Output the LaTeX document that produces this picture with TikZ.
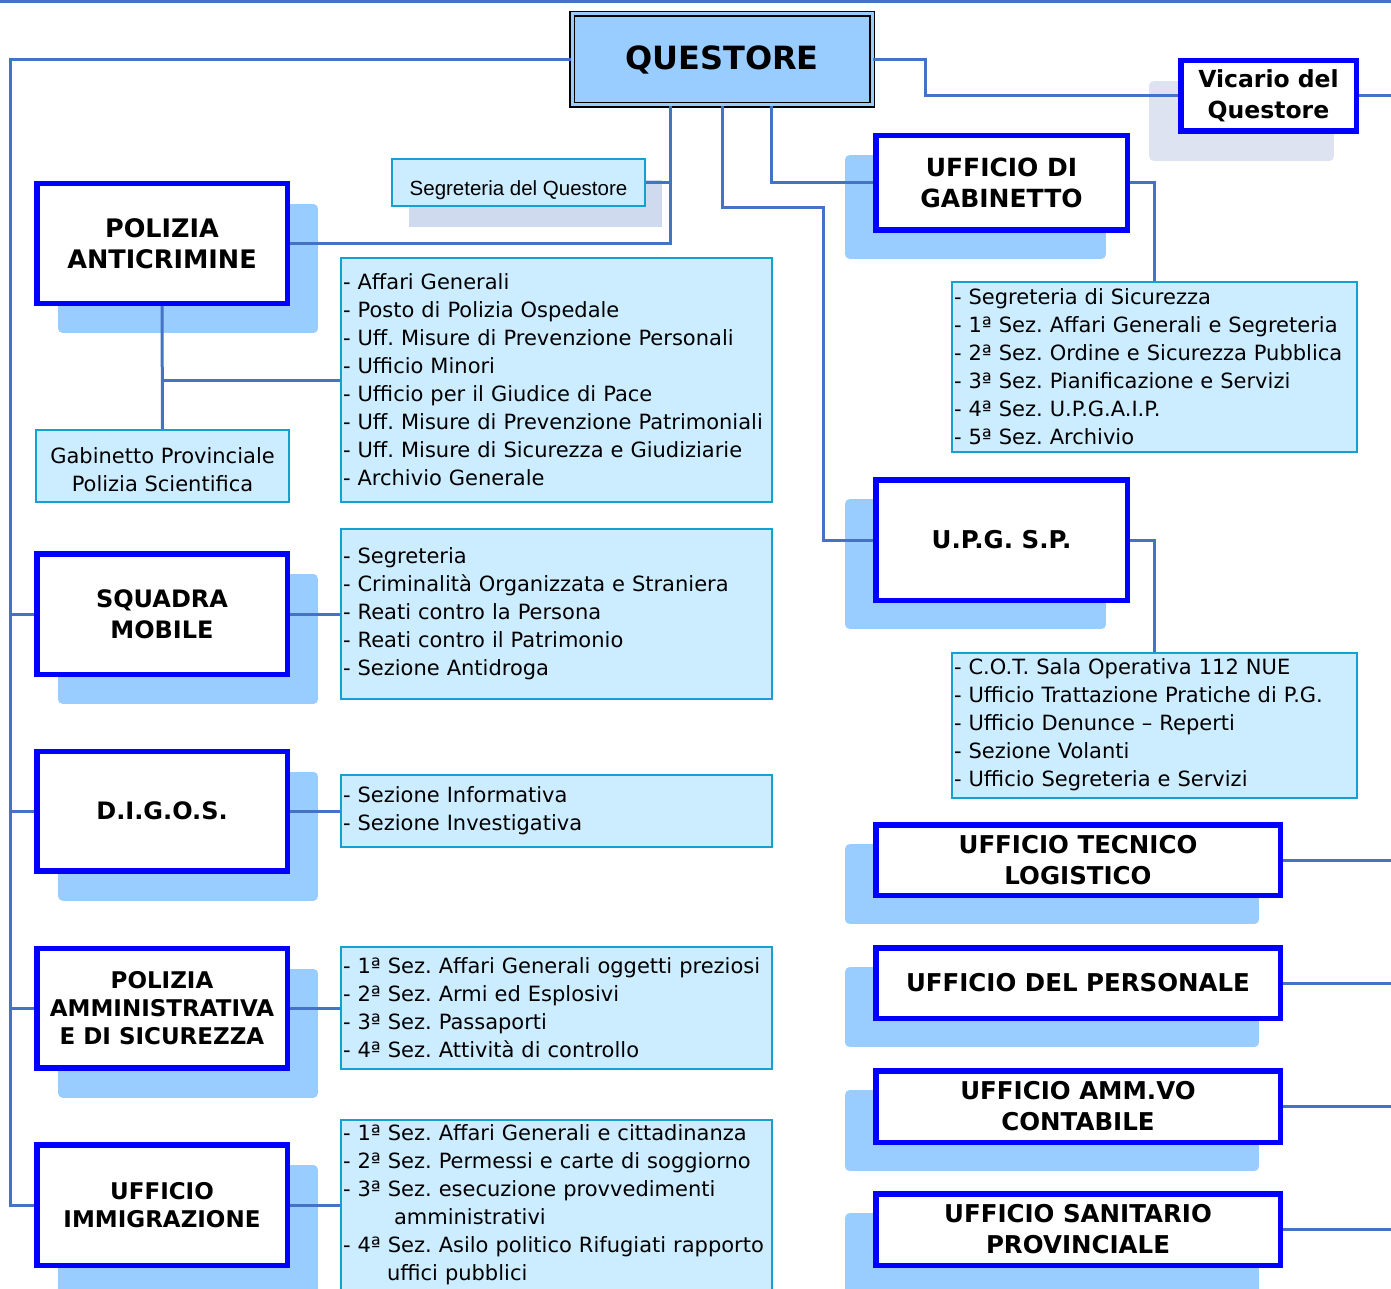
\documentclass[tikz,border=0pt]{standalone}
\usepackage{fontspec}
\setmainfont{DejaVu Sans}
\newfontfamily\arialfont{Liberation Sans}
\usetikzlibrary{calc}
\usetikzlibrary{shadows}
\frenchspacing

\definecolor{linkblue}{HTML}{4472C4}
\definecolor{boxblue}{HTML}{0000FF}
\definecolor{shadowblue}{HTML}{99CCFF}
\definecolor{qfill}{HTML}{99CCFF}
\definecolor{listfill}{HTML}{CCECFF}
\definecolor{listedge}{HTML}{14A0D2}
\definecolor{segshadow}{HTML}{D0DAEE}
\definecolor{vicshadow}{HTML}{DEE3F2}

\begin{document}
\begin{tikzpicture}[x=1pt, y=-1pt,
    link/.style={linkblue, line width=3pt},
    unitbox/.style={draw=boxblue, line width=5.5pt, fill=white, align=center, inner sep=2pt,
        font=\bfseries\fontsize{24.5}{31}\selectfont},
    lshadow/.style={drop shadow={shadow xshift=26pt, shadow yshift=-25pt, fill=shadowblue,
        draw=shadowblue, line width=9.5pt, line join=round, opacity=1}},
    rshadow/.style={drop shadow={shadow xshift=-26pt, shadow yshift=-24pt, fill=shadowblue,
        draw=shadowblue, line width=9.5pt, line join=round, opacity=1}},
    sublist/.style={draw=listedge, line width=2pt, fill=listfill, align=left, inner xsep=2pt, inner ysep=0pt,
        font=\fontsize{21}{28}\selectfont}]
    \useasboundingbox (0,0) rectangle (1391,1289);

    % vertice
    \node [draw=black, double=qfill, double distance=3pt, line width=1.5pt, fill=qfill,
        minimum width=300pt, minimum height=91pt, font=\bfseries\fontsize{32}{38}\selectfont] (q) at (722,59.5) {QUESTORE};
    \node [unitbox, drop shadow={shadow xshift=-27pt, shadow yshift=-25pt, fill=vicshadow, draw=vicshadow,
        line width=9.5pt, line join=round, opacity=1},
        minimum width=175.5pt, minimum height=70.5pt, font=\bfseries\fontsize{23.5}{31}\selectfont] (vic) at (1268.5,96) {Vicario del\\Questore};
    \node [sublist, align=center, font=\arialfont\fontsize{20.5}{24}\selectfont, text height=26pt, text depth=0pt,
        minimum width=253pt, minimum height=47pt,
        drop shadow={shadow xshift=17pt, shadow yshift=-21pt, fill=segshadow, opacity=1}] (seg) at (518.5,182.5) {Segreteria del Questore};

    % colonna sinistra
    \node [unitbox, lshadow, minimum width=250.5pt, minimum height=119.5pt, font=\bfseries\fontsize{25.5}{31}\selectfont] (pa) at (162,243.5) {POLIZIA\\ANTICRIMINE};
    \node [unitbox, lshadow, minimum width=250.5pt, minimum height=120.5pt, font=\bfseries\fontsize{24}{31}\selectfont] (sm) at (162,614) {SQUADRA\\MOBILE};
    \node [unitbox, lshadow, minimum width=250.5pt, minimum height=119.5pt, font=\bfseries\fontsize{24}{31}\selectfont] (dig) at (162,811) {D.I.G.O.S.};
    \node [unitbox, lshadow, minimum width=250.5pt, minimum height=119.5pt, font=\bfseries\fontsize{23}{28}\selectfont] (pam) at (162,1008) {POLIZIA\\AMMINISTRATIVA\\E DI SICUREZZA};
    \node [unitbox, lshadow, minimum width=250.5pt, minimum height=120.5pt, font=\bfseries\fontsize{23}{28}\selectfont] (imm) at (162,1205) {UFFICIO\\IMMIGRAZIONE};
    \node [sublist, align=center, text height=50pt, text depth=0pt, minimum width=253pt, minimum height=72pt] (gps) at (162.5,466) {Gabinetto Provinciale\\Polizia Scientifica};

    \node [sublist, text width=427pt, minimum height=244pt] (palist) at (556.5,380) {- Affari Generali\\- Posto di Polizia Ospedale\\- Uff. Misure di Prevenzione Personali\\- Ufficio Minori\\- Ufficio per il Giudice di Pace\\- Uff. Misure di Prevenzione Patrimoniali\\- Uff. Misure di Sicurezza e Giudiziarie\\- Archivio Generale};
    \node [sublist, text width=427pt, minimum height=170pt] (smlist) at (556.5,614) {- Segreteria\\- Criminalità Organizzata e Straniera\\- Reati contro la Persona\\- Reati contro il Patrimonio\\- Sezione Antidroga};
    \node [sublist, text width=427pt, minimum height=72pt] (diglist) at (556.5,811) {- Sezione Informativa\\- Sezione Investigativa};
    \node [sublist, text width=427pt, minimum height=122pt] (pamlist) at (556.5,1008) {- 1ª Sez. Affari Generali oggetti preziosi\\- 2ª Sez. Armi ed Esplosivi\\- 3ª Sez. Passaporti\\- 4ª Sez. Attività di controllo};
    \node [sublist, text width=427pt, minimum height=170pt] (immlist) at (556.5,1205) {- 1ª Sez. Affari Generali e cittadinanza\\- 2ª Sez. Permessi e carte di soggiorno\\- 3ª Sez. esecuzione provvedimenti\\\hspace*{51pt}amministrativi\\- 4ª Sez. Asilo politico Rifugiati rapporto\\\hspace*{44pt}uffici pubblici};

    % colonna destra
    \node [unitbox, rshadow, minimum width=251.5pt, minimum height=94.5pt, font=\bfseries\fontsize{25}{31}\selectfont] (gab) at (1001.5,183) {UFFICIO DI\\GABINETTO};
    \node [unitbox, rshadow, minimum width=251.5pt, minimum height=120.5pt] (upg) at (1001.5,540) {U.P.G. S.P.};
    \node [unitbox, rshadow, minimum width=404.5pt, minimum height=70.5pt] (utl) at (1078,860) {UFFICIO TECNICO\\LOGISTICO};
    \node [unitbox, rshadow, minimum width=404.5pt, minimum height=70.5pt] (udp) at (1078,983) {UFFICIO DEL PERSONALE};
    \node [unitbox, rshadow, minimum width=404.5pt, minimum height=71.5pt] (uac) at (1078,1106.5) {UFFICIO AMM.VO\\CONTABILE};
    \node [unitbox, rshadow, minimum width=404.5pt, minimum height=71.5pt] (usp) at (1078,1229.5) {UFFICIO SANITARIO\\PROVINCIALE};

    \node [sublist, text width=401pt, minimum height=170pt] (gablist) at (1154.5,367) {- Segreteria di Sicurezza\\- 1ª Sez. Affari Generali e Segreteria\\- 2ª Sez. Ordine e Sicurezza Pubblica\\- 3ª Sez. Pianificazione e Servizi\\- 4ª Sez. U.P.G.A.I.P.\\- 5ª Sez. Archivio};
    \node [sublist, text width=401pt, minimum height=145pt] (upglist) at (1154.5,725) {- C.O.T. Sala Operativa 112 NUE\\- Ufficio Trattazione Pratiche di P.G.\\- Ufficio Denunce -- Reperti\\- Sezione Volanti\\- Ufficio Segreteria e Servizi};

    % collegamenti
    \coordinate (spine) at (10,0);
    \coordinate (rim) at (1391,0);
    \coordinate (topl) at (0,1.5);
    \coordinate (topr) at (1391,1.5);
    \coordinate (qa) at ($(q.south)+(-52,0)$);
    \draw [link] (topl) -- (topr);
    \draw [link] (q.west) -| (spine |- imm.west) -- (imm.west);
    \foreach \n in {sm,dig,pam}
        \draw [link] (spine |- \n.west) -- (\n.west);
    \draw [link] (q.east) -- ++(53,0) |- (vic.west);
    \draw [link] (vic.east) -- (rim |- vic.east);
    \draw [link] (qa) |- (pa.east);
    \draw [link] (seg.east) -- (seg.east -| qa);
    \draw [link] (q.south) -- ++(0,102) -| ($(upg.west)+(-50,0)$) -- (upg.west);
    \draw [link] ($(q.south)+(49,0)$) |- (gab.west);
    \draw [link] (gab.east) -| (gablist.north);
    \draw [link] (upg.east) -| (upglist.north);
    \foreach \n in {utl,udp,uac,usp}
        \draw [link] (\n.east) -- (rim |- \n.east);
    \draw [link] (pa.south) -- (gps.north);
    \draw [link] (palist.west) -- (palist.west -| pa.south);
    \foreach \a/\b in {sm/smlist,dig/diglist,pam/pamlist,imm/immlist}
        \draw [link] (\a.east) -- (\b.west);
\end{tikzpicture}
\end{document}
